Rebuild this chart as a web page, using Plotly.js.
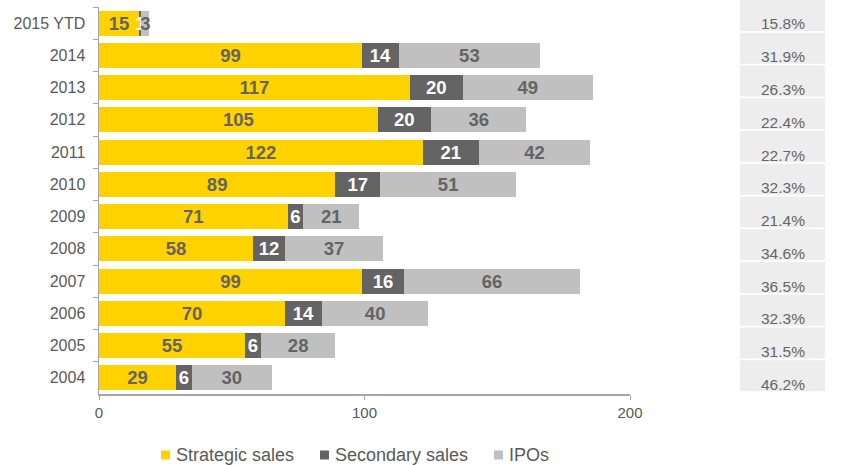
<!DOCTYPE html>
<html><head><meta charset="utf-8">
<script src="https://cdn.plot.ly/plotly-3.0.1.min.js"></script>
<style>body{margin:0;background:#fff}#c{width:846px;height:465px}</style>
</head><body><div id="c"></div>
<script>
const categories = ["2015 YTD","2014","2013","2012","2011","2010","2009","2008","2007","2006","2005","2004"];
const strategicSales = [15,99,117,105,122,89,71,58,99,70,55,29];
const secondarySales = [1,14,20,20,21,17,6,12,16,14,6,6];
const ipos = [3,53,49,36,42,51,21,37,66,40,28,30];
const percentLabels = ["15.8%","31.9%","26.3%","22.4%","22.7%","32.3%","21.4%","34.6%","36.5%","32.3%","31.5%","46.2%"];
const seriesNames = ["Strategic sales","Secondary sales","IPOs"];
const seriesColors = ["#FFD200","#646464","#C0C0C0"];

const FONT = "Liberation Sans, Arial, sans-serif";
function barTrace(idx, vals, txtColor){
  return {type:'bar', orientation:'h', name:seriesNames[idx], x:vals, y:categories,
    marker:{color:seriesColors[idx], line:{width:0}}, width:0.78, showlegend:false,
    text:vals.map(String), textposition:'inside', insidetextanchor:'middle', textangle:0,
    constraintext:'none', cliponaxis:false,
    textfont:{family:FONT, size:18.5, color:txtColor, weight:'bold'},
    hoverinfo:'x+y'};
}
const data = [
  barTrace(0, strategicSales, '#646464'),
  barTrace(1, secondarySales, '#ffffff'),
  barTrace(2, ipos, '#646464')
];

const W = 846, ML = 99, MR = 21, PLOT_W = W-ML-MR;
const PLOT_H = 394, PITCH = 32.75, BOX_H = 31;
const px2x = p => (p-ML)/PLOT_W;
const shapes = [], annotations = [];
categories.forEach((c,i)=>{
  const top = 1 - i*PITCH/PLOT_H;
  shapes.push({type:'rect', xref:'paper', yref:'paper', x0:px2x(740), x1:1, y0:top-BOX_H/PLOT_H, y1:top,
    fillcolor:'#EDEDED', line:{width:0}, layer:'below'});
  annotations.push({xref:'paper', yref:'paper', x:px2x(782.5), xanchor:'center', yanchor:'middle',
    y:1-(i*PITCH+24)/PLOT_H, text:percentLabels[i], showarrow:false,
    font:{family:FONT, size:15.5, color:'#666666'}});
});
// legend (manual, to match the small square swatches)
const legendX = [161, 320, 494];
const legendY = 1-(455-0)/PLOT_H;
seriesNames.forEach((n,k)=>{
  shapes.push({type:'rect', xref:'paper', yref:'paper', x0:px2x(legendX[k]), x1:px2x(legendX[k]+9),
    y0:legendY-4.5/PLOT_H, y1:legendY+4.5/PLOT_H, fillcolor:seriesColors[k], line:{width:0}});
  annotations.push({xref:'paper', yref:'paper', x:px2x(legendX[k]+13), xanchor:'left', yanchor:'middle',
    y:legendY, text:n, showarrow:false, font:{family:FONT, size:18, color:'#595959'}});
});

const layout = {
  width:W, height:465, barmode:'stack', showlegend:false,
  margin:{l:ML, r:MR, t:0, b:71},
  paper_bgcolor:'#fff', plot_bgcolor:'rgba(0,0,0,0)',
  font:{family:FONT, color:'#595959'},
  xaxis:{domain:[0,px2x(630)], range:[0,200], tickvals:[0,100,200], showgrid:false, zeroline:false,
    showline:true, linecolor:'#A6A6A6', linewidth:1.5, ticks:'outside', ticklen:4, tickcolor:'#A6A6A6',
    tickfont:{family:FONT, size:15, color:'#595959'}, fixedrange:true},
  yaxis:{domain:[0,0.9822], type:'category', categoryorder:'array', categoryarray:categories,
    autorange:'reversed', showgrid:false, zeroline:false, showline:true, linecolor:'#A6A6A6', linewidth:1.5,
    ticks:'outside', ticklen:5, tickcolor:'#A6A6A6', tickson:'boundaries',
    tickfont:{family:FONT, size:16, color:'#595959'}, ticklabelstandoff:9},
  shapes:shapes, annotations:annotations
};
Plotly.newPlot('c', data, layout, {displayModeBar:false, staticPlot:true});
</script></body></html>
